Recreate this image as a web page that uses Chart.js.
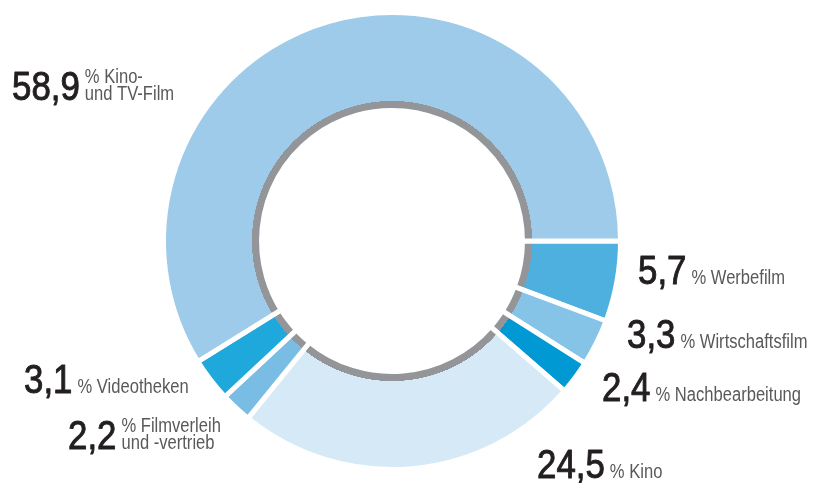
<!DOCTYPE html>
<html>
<head>
<meta charset="utf-8">
<script src="https://cdn.jsdelivr.net/npm/chart.js@4/dist/chart.umd.min.js"></script>
<style>
  html, body { margin: 0; padding: 0; background: #ffffff; }
  #wrap { width: 817px; height: 483px; position: relative; }
</style>
</head>
<body>
<div id="wrap"><canvas id="c" width="817" height="483"></canvas></div>
<script>
// ---- data ----
const categories = ["Werbefilm", "Wirtschaftsfilm", "Nachbearbeitung", "Kino", "Filmverleih und -vertrieb", "Videotheken", "Kino- und TV-Film"];
const values = [5.7, 3.3, 2.4, 24.5, 2.2, 3.1, 58.9];
const labelLines = [
  ["% Werbefilm"],
  ["% Wirtschaftsfilm"],
  ["% Nachbearbeitung"],
  ["% Kino"],
  ["% Filmverleih", "und -vertrieb"],
  ["% Videotheken"],
  ["% Kino-", "und TV-Film"]
];
const sliceColors = ["#4eb0de", "#85c3e7", "#0099d3", "#d6e9f6", "#7abde4", "#1ea8dc", "#9dcbe9"];
const ringGray = "#939598";

// label layout: number left x, number baseline y
const labelPos = [
  [638, 284], [627, 348], [602, 401], [537, 478], [68, 449], [24, 393], [12, 100]
];

const OUTER = 228.5, GRAY_OUT = 140;

function sliceFill(ctx) {
  const chart = ctx.chart;
  const color = sliceColors[ctx.dataIndex];
  const a = chart.chartArea;
  if (!a) return color;
  const cx = (a.left + a.right) / 2, cy = (a.top + a.bottom) / 2;
  const g = chart.ctx.createRadialGradient(cx, cy, 0, cx, cy, OUTER);
  const s = GRAY_OUT / OUTER;
  g.addColorStop(0, ringGray);
  g.addColorStop(s, ringGray);
  g.addColorStop(s + 0.0005, color);
  g.addColorStop(1, color);
  return g;
}

function drawScaled(c, text, x, y, sx, strokeW) {
  c.save();
  c.translate(x, y);
  c.scale(sx, 1);
  c.fillText(text, 0, 0);
  if (strokeW) {
    c.lineWidth = strokeW;
    c.strokeStyle = c.fillStyle;
    c.lineJoin = 'round';
    c.strokeText(text, 0, 0);
  }
  const w = c.measureText(text).width * sx;
  c.restore();
  return w;
}

const labelPlugin = {
  id: 'labels',
  afterDraw(chart) {
    const c = chart.ctx;
    const numFont = '41px "Liberation Sans", Arial, sans-serif';
    const txtFont = '19.5px "Liberation Sans", Arial, sans-serif';
    values.forEach((v, i) => {
      const [x, y] = labelPos[i];
      const num = v.toFixed(1).replace('.', ',');
      c.save();
      c.textBaseline = 'alphabetic';
      c.textAlign = 'left';
      c.font = numFont;
      c.fillStyle = '#231f20';
      const w = drawScaled(c, num, x, y, 0.85, 1.0);
      c.font = txtFont;
      c.fillStyle = '#58595b';
      const lines = labelLines[i];
      const n = lines.length;
      lines.forEach((ln, k) => {
        drawScaled(c, ln, x + w + 5, y - (n - 1 - k) * 17, 0.85, 0);
      });
      c.restore();
    });
  }
};

new Chart(document.getElementById('c'), {
  type: 'doughnut',
  data: {
    labels: categories,
    datasets: [{
      data: values,
      backgroundColor: sliceFill,
      borderColor: '#ffffff',
      borderWidth: 5,
      borderAlign: 'center',
      hoverOffset: 0
    }]
  },
  options: {
    responsive: false,
    animation: false,
    events: [],
    rotation: 90,
    cutout: '57.1%',
    layout: { padding: { left: 161, right: 194, top: 10, bottom: 11 } },
    plugins: { legend: { display: false }, tooltip: { enabled: false } }
  },
  plugins: [labelPlugin]
});
</script>
</body>
</html>
